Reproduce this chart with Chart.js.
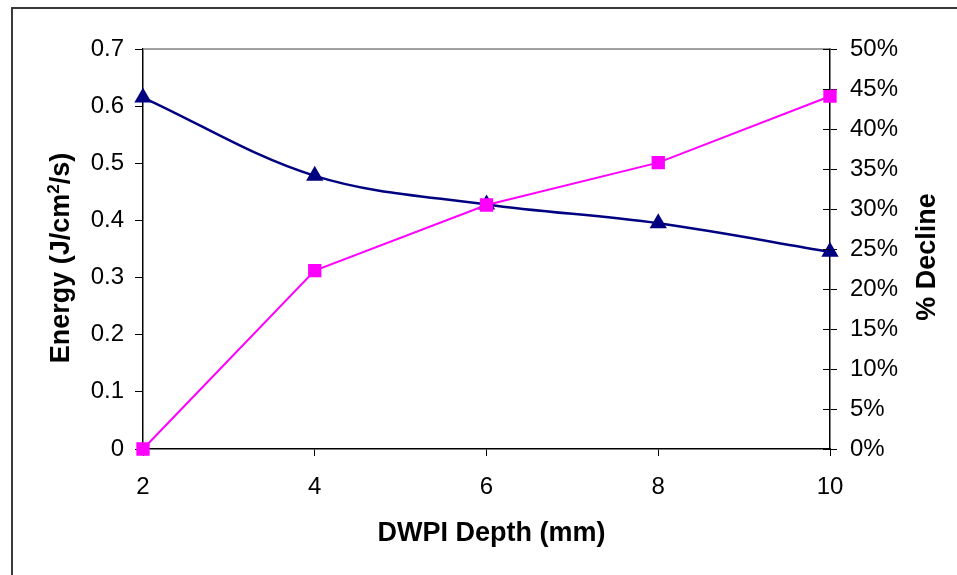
<!DOCTYPE html>
<html>
<head>
    <title>Energy and % Decline vs DWPI Depth</title>
    <style>
        body {
            margin: 0;
            background: #ffffff;
        }
        #chart-container {
            width: 957px;
            height: 575px;
        }
    </style>
    <script src="https://cdn.jsdelivr.net/npm/chart.js@4"></script>
</head>
<body>
    <div id="chart-container">
        <canvas id="energyChart" width="957" height="575"></canvas>
    </div>
    <script>
        // values
        const depths = [2, 4, 6, 8, 10];
        const energy = [0.615, 0.478, 0.428, 0.395, 0.345];
        const decline = [0, 22.3, 30.5, 35.8, 44.1];
        const energyTicks = [0, 0.1, 0.2, 0.3, 0.4, 0.5, 0.6, 0.7];
        const declineTicks = [0, 5, 10, 15, 20, 25, 30, 35, 40, 45, 50];

        const tickFont = { family: 'Arial, "Liberation Sans", sans-serif', size: 24 };
        const titleFont = 'bold 27px Arial, "Liberation Sans", sans-serif';

        // frame, grey top border, inner ticks on right axis, axis titles
        const decorPlugin = {
            id: 'decor',
            beforeDraw(chart) {
                const ctx = chart.ctx;
                ctx.save();
                ctx.fillStyle = '#ffffff';
                ctx.fillRect(0, 0, chart.width, chart.height);
                ctx.strokeStyle = '#3a3a3a';
                ctx.lineWidth = 2;
                ctx.beginPath();
                ctx.moveTo(12, chart.height + 2);
                ctx.lineTo(12, 8);
                ctx.lineTo(chart.width + 2, 8);
                ctx.stroke();
                ctx.restore();
            },
            afterDraw(chart) {
                const ctx = chart.ctx;
                const area = chart.chartArea;
                const y2 = chart.scales.y2;
                ctx.save();
                ctx.strokeStyle = '#808080';
                ctx.lineWidth = 1.5;
                ctx.beginPath();
                ctx.moveTo(area.left, area.top);
                ctx.lineTo(area.right, area.top);
                ctx.stroke();

                ctx.strokeStyle = '#000000';
                ctx.lineWidth = 1;
                ctx.beginPath();
                y2.ticks.forEach(t => {
                    const py = Math.round(y2.getPixelForValue(t.value)) + 0.5;
                    ctx.moveTo(y2.left - 7, py);
                    ctx.lineTo(y2.left, py);
                });
                ctx.stroke();

                ctx.fillStyle = '#000000';
                ctx.font = titleFont;
                ctx.textBaseline = 'middle';

                // x title
                ctx.textAlign = 'center';
                ctx.fillText('DWPI Depth (mm)', (area.left + area.right) / 2 + 5, 534);

                // left title with superscript
                const a = 'Energy (J/cm', b = '2', c = '/s)';
                ctx.save();
                ctx.translate(62, 258);
                ctx.rotate(-Math.PI / 2);
                ctx.font = titleFont;
                const wa = ctx.measureText(a).width;
                const wc = ctx.measureText(c).width;
                ctx.font = 'bold 17px Arial, "Liberation Sans", sans-serif';
                const wb = ctx.measureText(b).width;
                let x0 = -(wa + wb + wc) / 2;
                ctx.textAlign = 'left';
                ctx.font = titleFont;
                ctx.fillText(a, x0, 0);
                ctx.font = 'bold 17px Arial, "Liberation Sans", sans-serif';
                ctx.fillText(b, x0 + wa, -8);
                ctx.font = titleFont;
                ctx.fillText(c, x0 + wa + wb, 0);
                ctx.restore();

                // right title, reading bottom to top
                ctx.save();
                ctx.translate(928, 257);
                ctx.rotate(-Math.PI / 2);
                ctx.textAlign = 'center';
                ctx.font = titleFont;
                ctx.fillText('% Decline', 0, 0);
                ctx.restore();

                ctx.restore();
            }
        };

        const ctx = document.getElementById('energyChart').getContext('2d');
        new Chart(ctx, {
            type: 'line',
            data: {
                datasets: [{
                    label: 'Energy',
                    data: depths.map((d, i) => ({ x: d, y: energy[i] })),
                    yAxisID: 'y',
                    borderColor: '#000080',
                    backgroundColor: '#000080',
                    borderWidth: 2.5,
                    tension: 0.35,
                    pointStyle: 'triangle',
                    pointRadius: 7.5,
                    pointHoverRadius: 7.5,
                    clip: false,
                    order: 1
                }, {
                    label: '% Decline',
                    data: depths.map((d, i) => ({ x: d, y: decline[i] })),
                    yAxisID: 'y2',
                    borderColor: '#ff00ff',
                    backgroundColor: '#ff00ff',
                    borderWidth: 2,
                    tension: 0,
                    pointStyle: 'rect',
                    pointRadius: 8,
                    pointHoverRadius: 8,
                    clip: false,
                    order: 0
                }]
            },
            options: {
                responsive: false,
                animation: false,
                layout: { padding: { top: 49, left: 0, right: 0, bottom: 0 } },
                plugins: {
                    legend: { display: false },
                    tooltip: { enabled: false }
                },
                scales: {
                    x: {
                        type: 'linear',
                        min: 2,
                        max: 10,
                        afterFit: s => { s.height = 126; },
                        afterBuildTicks: s => { s.ticks = depths.map(v => ({ value: v })); },
                        ticks: { color: '#000', font: tickFont, padding: 17, maxRotation: 0 },
                        grid: { drawOnChartArea: false, color: '#000', tickLength: 7 },
                        border: { color: '#000', width: 1.5 }
                    },
                    y: {
                        position: 'left',
                        min: 0,
                        max: 0.7,
                        afterFit: s => { s.width = 143; },
                        afterBuildTicks: s => { s.ticks = energyTicks.map(v => ({ value: v })); },
                        ticks: { color: '#000', font: tickFont, padding: 11, callback: v => String(v) },
                        grid: { drawOnChartArea: false, color: '#000', tickLength: 8 },
                        border: { color: '#000', width: 1.5 }
                    },
                    y2: {
                        position: 'right',
                        min: 0,
                        max: 50,
                        afterFit: s => { s.width = 127; },
                        afterBuildTicks: s => { s.ticks = declineTicks.map(v => ({ value: v })); },
                        ticks: { color: '#000', font: tickFont, padding: 13, callback: v => v + '%' },
                        grid: { drawOnChartArea: false, color: '#000', tickLength: 7 },
                        border: { color: '#000', width: 1.5 }
                    }
                }
            },
            plugins: [decorPlugin]
        });
    </script>
</body>
</html>
